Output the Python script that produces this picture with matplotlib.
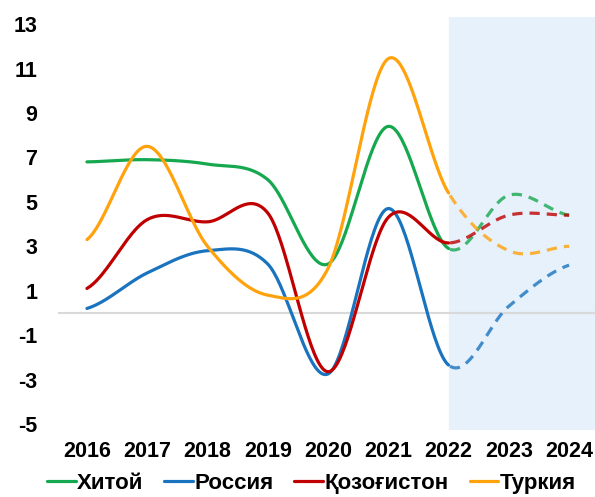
import numpy as np
import matplotlib.pyplot as plt

plt.rcParams['font.family'] = ['Liberation Sans', 'DejaVu Sans']
plt.rcParams['font.weight'] = 'bold'
plt.rcParams['axes.unicode_minus'] = False

# Ma'lumotlar
yillar = [2016, 2017, 2018, 2019, 2020, 2021, 2022, 2023, 2024]
xitoy = [6.8, 6.9, 6.7, 6.0, 2.2, 8.4, 2.9, 5.3, 4.4]
rossiya = [0.2, 1.8, 2.8, 2.2, -2.75, 4.7, -2.35, 0.3, 2.15]
qozogiston = [1.1, 4.2, 4.1, 4.5, -2.65, 4.3, 3.15, 4.4, 4.4]
turkiya = [3.3, 7.5, 3.0, 0.8, 2.0, 11.45, 5.4, 2.8, 3.0]
nomlar = ["Хитой", "Россия", "Қозоғистон", "Туркия"]
ranglar = ["#16A84F", "#1A73BE", "#C00000", "#FFA20C"]
prognoz_boshi = 2022


def silliq(x, y, n=40, t=0.5):
    # Excel uslubidagi silliq egri chiziq (kardinal spline)
    x = np.asarray(x, float)
    y = np.asarray(y, float)
    px = np.concatenate([[2 * x[0] - x[1]], x, [2 * x[-1] - x[-2]]])
    py = np.concatenate([[y[0]], y, [y[-1]]])
    xs, ys = [], []
    for i in range(1, len(px) - 2):
        s = np.linspace(0, 1, n)
        mx0 = t * (px[i + 1] - px[i - 1])
        mx1 = t * (px[i + 2] - px[i])
        my0 = t * (py[i + 1] - py[i - 1])
        my1 = t * (py[i + 2] - py[i])
        h00 = 2 * s**3 - 3 * s**2 + 1
        h10 = s**3 - 2 * s**2 + s
        h01 = -2 * s**3 + 3 * s**2
        h11 = s**3 - s**2
        xs.append(h00 * px[i] + h10 * mx0 + h01 * px[i + 1] + h11 * mx1)
        ys.append(h00 * py[i] + h10 * my0 + h01 * py[i + 1] + h11 * my1)
    return np.concatenate(xs), np.concatenate(ys)


fig = plt.figure(figsize=(5.95, 4.97), dpi=100)
ax = fig.add_axes([0.0975, 0.135, 0.9025, 0.831])

ax.axvspan(prognoz_boshi, 2030, color="#E6F1FB", zorder=0)
ax.axhline(0, color="#D9D9D9", lw=1.5, zorder=1)

for qator, nom, rang in zip([xitoy, rossiya, qozogiston, turkiya], nomlar, ranglar):
    sx, sy = silliq(yillar, qator)
    m = sx <= prognoz_boshi + 1e-9
    ax.plot(sx[m], sy[m], color=rang, lw=2.3, label=nom, zorder=3,
            solid_capstyle="round")
    ax.plot(sx[~m], sy[~m], color=rang, lw=2.3, ls=(0, (3.2, 2.2)), alpha=0.8,
            zorder=2)

ax.set_xlim(2015.52, 2024.43)
ax.set_ylim(-5.27, 13.33)
ax.set_xticks(yillar)
ax.set_yticks(range(-5, 14, 2))
ax.tick_params(length=0, labelsize=15.5)
ax.tick_params(axis="y", pad=15)
ax.tick_params(axis="x", pad=8)
for s in ax.spines.values():
    s.set_visible(False)

fig.legend(loc="center", bbox_to_anchor=(0.523, 0.028), ncol=4, frameon=False,
           fontsize=16, handlelength=1.3, handletextpad=0.05, columnspacing=0.95,
           borderaxespad=0, borderpad=0)

plt.savefig("out.png", dpi=100)
